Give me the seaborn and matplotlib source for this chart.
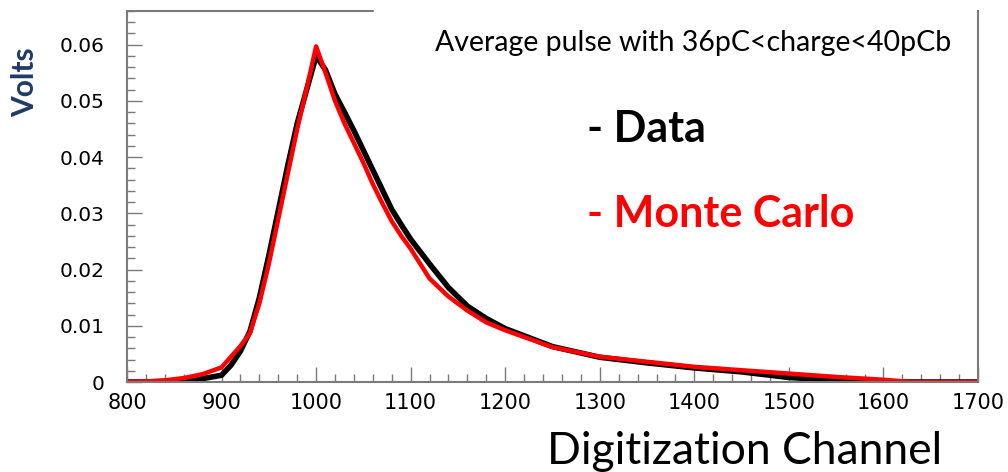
import numpy as np
import pandas as pd
import seaborn as sns
import matplotlib
matplotlib.use("Agg")
import matplotlib.pyplot as plt
from matplotlib.ticker import MultipleLocator, FuncFormatter

# ---- data ----
channel = [800, 820, 840, 860, 880, 900, 910, 920, 930, 940, 950, 960, 970, 980, 990,
           1000, 1010, 1020, 1030, 1040, 1050, 1060, 1070, 1080, 1090, 1100, 1120, 1140,
           1160, 1180, 1200, 1250, 1300, 1350, 1400, 1450, 1500, 1550, 1600, 1630, 1650, 1700]
data_volts = [0.0, 0.0, 0.0001, 0.0003, 0.0006, 0.0012, 0.0030, 0.0055, 0.0090, 0.0150,
              0.0225, 0.0305, 0.0385, 0.0460, 0.0520, 0.0580, 0.0555, 0.0512, 0.0480, 0.0447,
              0.0412, 0.0377, 0.0342, 0.0307, 0.0280, 0.0254, 0.0210, 0.0168, 0.0135, 0.0113,
              0.0095, 0.0063, 0.0044, 0.0034, 0.0025, 0.0018, 0.0008, 0.0003, 0.0, 0.0, 0.0, 0.0]
mc_volts = [0.0, 0.0001, 0.0003, 0.0007, 0.0014, 0.0026, 0.0045, 0.0064, 0.0087, 0.0140,
            0.0210, 0.0290, 0.0370, 0.0450, 0.0522, 0.0597, 0.0550, 0.0500, 0.0460, 0.0425,
            0.0390, 0.0352, 0.0318, 0.0286, 0.0260, 0.0237, 0.0184, 0.0152, 0.0127, 0.0106,
            0.0092, 0.0062, 0.0045, 0.0036, 0.0027, 0.0021, 0.0015, 0.0009, 0.0004, 0.0, 0.0, 0.0]

title_text = "Average pulse with 36pC<charge<40pCb"
xlabel_text = "Digitization Channel"
ylabel_text = "Volts"
legend_data = "- Data"
legend_mc = "- Monte Carlo"

df = pd.DataFrame({"channel": channel, "Data": data_volts, "MC": mc_volts})

sns.set_style("ticks")
plt.rcParams["font.family"] = ["DejaVu Sans"]

fig = plt.figure(figsize=(10.08, 4.72), dpi=100)
ax = fig.add_axes([127 / 1008, 1 - 382 / 472, (978 - 127) / 1008, (382 - 11) / 472])

sns.lineplot(data=df, x="channel", y="Data", ax=ax, color="black", linewidth=4.0)
sns.lineplot(data=df, x="channel", y="MC", ax=ax, color="#ff0000", linewidth=3.2)

ax.set_xlim(800, 1700)
ax.set_ylim(0, 0.066)
ax.set_xlabel("")
ax.set_ylabel("")

ax.xaxis.set_major_locator(MultipleLocator(100))
ax.xaxis.set_minor_locator(MultipleLocator(20))
ax.yaxis.set_major_locator(MultipleLocator(0.01))
ax.yaxis.set_minor_locator(MultipleLocator(0.002))
ax.yaxis.set_major_formatter(FuncFormatter(lambda v, p: "0" if abs(v) < 1e-9 else f"{v:.2f}"))

spine_c = "#7a7a7a"
for s in ["left", "bottom", "right"]:
    ax.spines[s].set_visible(True)
    ax.spines[s].set_color(spine_c)
    ax.spines[s].set_linewidth(1.5)
ax.spines["top"].set_visible(False)
ax.plot([0, (373 - 127) / 851], [1, 1], transform=ax.transAxes, color=spine_c,
        linewidth=1.5, clip_on=False)

ax.tick_params(axis="both", which="major", direction="in", length=11, width=1,
               color=spine_c, labelcolor="black")
ax.tick_params(axis="y", which="major", labelsize=14.5)
ax.tick_params(axis="x", which="major", labelsize=15)
ax.tick_params(axis="both", which="minor", direction="in", length=6, width=1, color=spine_c)
ax.tick_params(axis="y", which="both", right=False, pad=16)
ax.tick_params(axis="x", which="both", top=False, pad=8)

fig.text(693 / 1008, 1 - 43 / 472, title_text, ha="center", va="center",
         fontsize=20.5, family=["Lato", "DejaVu Sans"], color="black")
fig.text(745 / 1008, 1 - 452 / 472, xlabel_text, ha="center", va="center",
         fontsize=32, family=["Lato", "DejaVu Sans"], color="black")
fig.text(25 / 1008, 1 - 82 / 472, ylabel_text, ha="center", va="center", rotation=90,
         fontsize=21.5, fontweight="bold", family=["Lato", "DejaVu Sans"], color="#1f3b66")
fig.text(587 / 1008, 1 - 142 / 472, legend_data, ha="left", va="baseline",
         fontsize=31, fontweight="bold", family=["Lato", "DejaVu Sans"], color="black")
fig.text(587 / 1008, 1 - 227 / 472, legend_mc, ha="left", va="baseline",
         fontsize=31, fontweight="bold", family=["Lato", "DejaVu Sans"], color="#ff0000")

fig.savefig("out.png", dpi=100, facecolor="white")
